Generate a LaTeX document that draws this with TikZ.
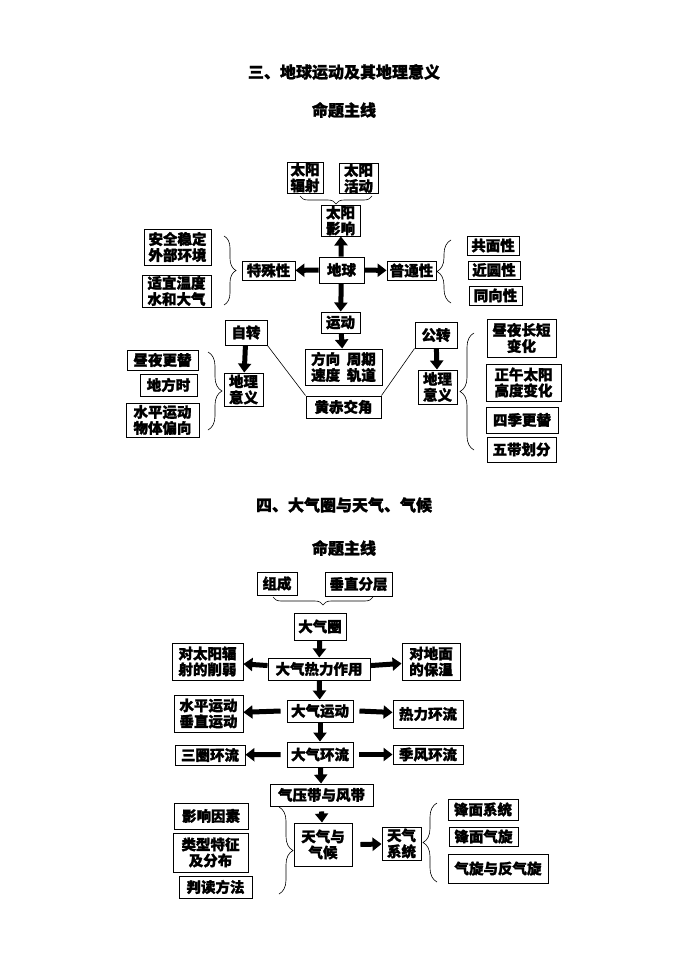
\documentclass[tikz,border=0pt]{standalone}
\usepackage{fontspec}
\setmainfont{Noto Sans CJK SC}[FakeBold=1.5]
\usetikzlibrary{arrows.meta,decorations.pathreplacing}
\newcommand{\bx}[6]{%
  \pgfmathsetmacro{\bw}{#4-#2}\pgfmathsetmacro{\bh}{#5-#3}%
  \pgfmathsetmacro{\cx}{(#2+#4)/2}\pgfmathsetmacro{\cy}{(#3+#5)/2}%
  \node[bxs,minimum width=\bw pt,minimum height=\bh pt] (#1) at (\cx,\cy) {#6};}
\begin{document}
\begin{tikzpicture}[x=1pt,y=-1pt,
  bxs/.style={draw,line width=0.9pt,inner sep=0pt,align=center,font=\fontsize{14.5}{16}\selectfont\bfseries},
  fat/.style={line width=5pt,-{Triangle[length=9pt,width=13pt]}},
  brc/.style={decorate,decoration={brace,amplitude=#1},line width=0.6pt},
  ttl/.style={font=\fontsize{16}{18}\selectfont\bfseries}]
\useasboundingbox (0,0) rectangle (688,971);
\node[ttl] (t1) at (344,72) {三、地球运动及其地理意义};
\node[ttl] (t2) at (344,110) {命题主线};
\node[ttl] (t3) at (344,505) {四、大气圈与天气、气候};
\node[ttl] (t4) at (344,548) {命题主线};
% part 1
\bx{fs}{287}{162}{323}{193}{太阳\\辐射}
\bx{hd}{339}{163}{378}{193}{太阳\\活动}
\bx{yx}{321}{205}{360}{236}{太阳\\影响}
\bx{dq}{319}{257}{364}{283}{地球}
\bx{ts}{242}{261}{295}{280}{特殊性}
\bx{pt}{387}{261}{436}{280}{普通性}
\bx{aq}{144}{229}{211}{265}{安全稳定\\外部环境}
\bx{sy}{142}{275}{211}{307}{适宜温度\\水和大气}
\bx{gm}{467}{236}{519}{255}{共面性}
\bx{jy}{468}{261}{520}{279}{近圆性}
\bx{tx}{469}{286}{522}{305}{同向性}
\bx{yd}{321}{312}{360}{333}{运动}
\bx{fx}{305}{349}{382}{385}{方向\ \ 周期\\速度\ \ 轨道}
\bx{hc}{306}{396}{381}{418}{黄赤交角}
\bx{zz}{225}{320}{267}{345}{自转}
\bx{gz}{415}{322}{457}{348}{公转}
\bx{dl}{224}{373}{263}{406}{地理\\意义}
\bx{dr}{418}{370}{457}{404}{地理\\意义}
\bx{zy}{127}{350}{198}{370}{昼夜更替}
\bx{df}{140}{374}{197}{396}{地方时}
\bx{sp}{126}{403}{199}{437}{水平运动\\物体偏向}
\bx{cd}{487}{319}{556}{357}{昼夜长短\\变化}
\bx{zw}{486}{364}{561}{401}{正午太阳\\高度变化}
\bx{sj}{486}{407}{558}{433}{四季更替}
\bx{wd}{487}{437}{556}{462}{五带划分}
\draw[brc=8pt] (372,196) -- (300,196);
\draw[fat] (dq) -- (yx);
\draw[fat] (dq) -- (ts);
\draw[fat] (dq) -- (pt);
\draw[fat] (dq) -- (yd);
\draw[fat] (yd) -- (fx);
\draw[fat] (zz) -- (dl);
\draw[fat] (gz) -- (dr);
\draw[line width=0.6pt] (zz.south east) -- (hc.north west);
\draw[line width=0.6pt] (gz.south west) -- (hc.north east);
\draw[brc=12pt] (224,236) -- (224,305);
\draw[brc=14pt] (451,303) -- (451,240);
\draw[brc=14pt] (208,352) -- (208,430);
\draw[brc=14pt] (474,450) -- (474,333);
% part 2
\bx{zc}{257}{572}{297}{595}{组成}
\bx{cz}{325}{572}{392}{596}{垂直分层}
\bx{dqq}{294}{613}{346}{640}{大气圈}
\bx{rl}{268}{658}{370}{680}{大气热力作用}
\bx{xr}{172}{643}{243}{680}{对太阳辐\\射的削弱}
\bx{bw}{402}{643}{460}{680}{对地面\\的保温}
\bx{ydq}{287}{700}{353}{722}{大气运动}
\bx{sc}{174}{695}{243}{732}{水平运动\\垂直运动}
\bx{rh}{393}{700}{463}{728}{热力环流}
\bx{hl}{287}{742}{353}{767}{大气环流}
\bx{sq}{175}{745}{245}{765}{三圈环流}
\bx{jf}{393}{745}{463}{764}{季风环流}
\bx{qy}{270}{784}{373}{806}{气压带与风带}
\bx{tq}{294}{823}{352}{866}{天气与\\气候}
\bx{xt}{382}{827}{421}{860}{天气\\系统}
\bx{ys}{174}{803}{248}{829}{影响因素}
\bx{lx}{173}{833}{248}{872}{类型特征\\及分布}
\bx{pd}{179}{876}{252}{898}{判读方法}
\bx{fm}{448}{799}{518}{820}{锋面系统}
\bx{fq}{449}{827}{518}{846}{锋面气旋}
\bx{qx}{448}{854}{548}{883}{气旋与反气旋}
\draw[brc=8pt] (373,597) -- (273,597);
\draw[fat] (dqq) -- (rl);
\draw[fat] (rl) -- (xr);
\draw[fat] (rl) -- (bw);
\draw[fat] (rl) -- (ydq);
\draw[fat] (ydq.west) ++(-6,0) -- (sc);
\draw[fat] (ydq.east) ++(6,0) -- (rh);
\draw[fat] (ydq) -- (hl);
\draw[fat] (hl.west) ++(-6,0) -- (sq);
\draw[fat] (hl.east) ++(6,0) -- (jf);
\draw[fat] (hl) -- (qy);
\draw[fat] (qy.south) ++(0,5) -- (tq);
\draw[fat] (tq.east) ++(8,0) -- (xt);
\draw[brc=14pt] (279,807) -- (279,894);
\draw[brc=14pt] (437,882) -- (437,803);
\end{tikzpicture}
\end{document}
